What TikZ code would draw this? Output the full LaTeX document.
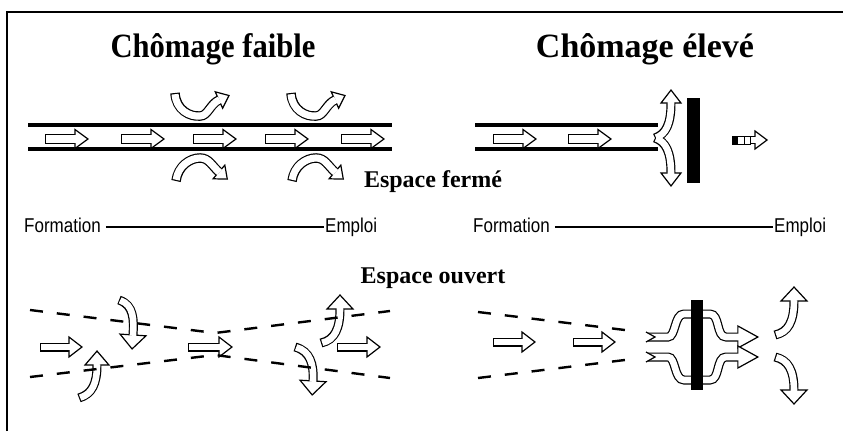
\documentclass[tikz,border=0pt]{standalone}
\usepackage{fontspec}
\setmainfont{Liberation Serif}
\newfontfamily\labelfont{Liberation Sans}
\usetikzlibrary{decorations.markings}
\tikzset{
  % hollow (outlined) arrows: black band, white inside, open triangular head
  hout/.style={draw=black, line width=#1pt, line cap=butt},
  hhead/.style 2 args={postaction={decorate, decoration={markings,
      mark=at position 0.999 with {\filldraw[fill=white, draw=black, line width=1.2pt, line join=miter]
        (0pt,-#1pt) -- (#2pt,0pt) -- (0pt,#1pt) -- cycle;}}}},
  hin/.style={draw=white, line width=#1pt-2.4pt, shorten <=1.2pt, shorten >=-0.8pt},
  hollow/.style n args={3}{hout=#1, hhead={#2}{#3}, postaction={hin=#1}},
  channel/.style={line width=4pt},
  frame/.style={line width=1.8pt},
  openline/.style={line width=2.4pt, dash pattern=on 13pt off 14pt},
  wall/.style={fill=black},
  title/.style={inner sep=0pt, anchor=base, font=\fontsize{34}{40}\selectfont\bfseries},
  heading/.style={inner sep=0pt, anchor=base, font=\fontsize{24}{28}\selectfont\bfseries},
  axislabel/.style={inner sep=0pt, anchor=base west, font=\labelfont\fontsize{20}{24}\selectfont},
  axisline/.style={line width=1.3pt},
}
\begin{document}
\begin{tikzpicture}[x=1pt, y=-1pt]
\useasboundingbox (0,0) rectangle (843,431);

% frame (top and left edges)
\draw[frame] (7,431) -- (7,12) -- (843,12);

% titles
\node[title] (t1) at (213,57) {\scalebox{0.9}[1]{Chômage faible}};
\node[title] (t2) at (645,57) {Chômage élevé};

% ---------- closed space, low unemployment ----------
\draw[channel] (28,125) -- (392,125);
\draw[channel] (28,149) -- (392,149);
\foreach \x in {45,121,193,265,341}
  \draw[hollow={10}{9.5}{13}] (\x,139) -- (\x+30,139);
\foreach \dx in {0,116} {
  \begin{scope}[xshift=\dx pt]
    \draw[hollow={9.5}{9}{11}] (175,93) .. controls (176,110) and (190,117) .. (200,116)
                             .. controls (208,116) and (210,104) .. (219,100);
    \draw[hollow={9.5}{9}{11}] (176,181) .. controls (178,166) and (190,158) .. (200,158)
                             .. controls (209,158) and (212,166) .. (219,172);
  \end{scope}
}
\node[heading] (h1) at (433,187) {Espace fermé};

% ---------- closed space, high unemployment ----------
\draw[channel] (475,125) -- (658,125);
\draw[channel] (475,149) -- (658,149);
\draw[hollow={10}{9.5}{13}] (493,139) -- (523,139);
\draw[hollow={10}{9.5}{13}] (568,139) -- (598,139);
% deflected flow against the barrier
\draw[hout=9] (655,138) .. controls (666,134) and (671,124) .. (671,103);
\draw[hout=9] (655,138) .. controls (666,142) and (671,152) .. (671,173);
\path[hhead={10}{13}] (655,138) .. controls (666,134) and (671,124) .. (671,103);
\path[hhead={10}{13}] (655,138) .. controls (666,142) and (671,152) .. (671,173);
\path[hin=9] (655,138) .. controls (666,134) and (671,124) .. (671,103);
\path[hin=9] (655,138) .. controls (666,142) and (671,152) .. (671,173);
\fill[wall] (687,98) rectangle (700,183);
% residual, broken flow
\filldraw[fill=black, line width=0.9pt] (732,136) rectangle (737,144);
\draw[line width=0.9pt] (737,136) rectangle (744,144);
\draw[line width=0.9pt] (744,136) rectangle (750,144);
\draw[hollow={8}{9}{12}] (750,140) -- (755,140);

% ---------- formation -> employment axes ----------
\node[axislabel] (f1) at (24,232) {\scalebox{0.85}[1]{Formation}};
\node[axislabel] (e1) at (325,232) {\scalebox{0.85}[1]{Emploi}};
\draw[axisline] ([xshift=5pt,yshift=5pt]f1.base east) -- ([xshift=-1pt,yshift=5pt]e1.base west);
\node[axislabel] (f2) at (473,232) {\scalebox{0.85}[1]{Formation}};
\node[axislabel] (e2) at (774,232) {\scalebox{0.85}[1]{Emploi}};
\draw[axisline] ([xshift=5pt,yshift=5pt]f2.base east) -- ([xshift=-1pt,yshift=5pt]e2.base west);

\node[heading] (h2) at (433,283) {Espace ouvert};

% ---------- open space, low unemployment ----------
\draw[hollow={9}{10}{13}] (40,347) -- (69,347);
\draw[hollow={9}{10}{13}] (188,347) -- (219,347);
\draw[hollow={9}{10}{13}] (337,347) -- (367,347);
\draw[hollow={9}{13}{14}] (119,300) .. controls (134,305) and (134,320) .. (133,335);
\draw[hollow={9}{12}{14}] (79,398) .. controls (92,394) and (97,384) .. (97,365);
\draw[hollow={9}{13}{14}] (321,343) .. controls (335,340) and (340,328) .. (340,309);
\draw[hollow={9}{13}{14}] (295,347) .. controls (310,351) and (314,364) .. (313,381);
\draw[openline] (30,310) -- (215,333) -- (390,311);
\draw[openline] (30,377) -- (215,355) -- (390,378);

% ---------- open space, high unemployment ----------
\draw[openline] (478,312) -- (633,331);
\draw[openline] (478,378) -- (633,359);
\draw[hollow={9}{10}{13}] (493,342) -- (522,342);
\draw[hollow={9}{10}{13}] (573,342) -- (602,342);
% flows going round the barrier
\draw[hollow={9}{11}{20}] (648,337) -- (668,337) .. controls (676,337) and (674,314) .. (684,314)
   -- (710,314) .. controls (720,314) and (716,337) .. (726,337) -- (738,337);
\draw[hollow={9}{11}{20}] (648,357) -- (668,357) .. controls (676,357) and (674,380) .. (684,380)
   -- (710,380) .. controls (720,380) and (716,357) .. (726,357) -- (738,357);
\foreach \y in {337,357}
  \filldraw[fill=white, draw=black, line width=1.2pt, line join=miter]
    (646,\y-5) -- (655,\y) -- (646,\y+5);
\fill[wall] (691,300) rectangle (703,390);
\draw[hollow={9}{13}{14}] (775,335) .. controls (788,332) and (794,322) .. (794,301);
\draw[hollow={9}{13}{14}] (775,357) .. controls (788,360) and (794,370) .. (794,390);
\end{tikzpicture}
\end{document}
